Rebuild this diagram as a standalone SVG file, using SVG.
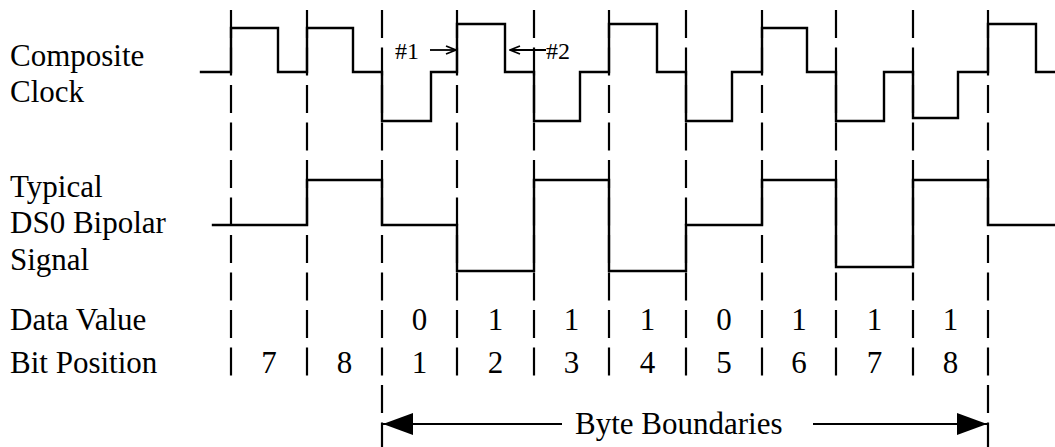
<svg xmlns="http://www.w3.org/2000/svg" width="1055" height="447" viewBox="0 0 1055 447">
<style>
.lbl{font-family:"Liberation Serif","Times New Roman",serif;font-size:31px;fill:#000}
.num{font-family:"Liberation Serif","Times New Roman",serif;font-size:31px;fill:#000;text-anchor:middle}
.small{font-family:"Liberation Serif","Times New Roman",serif;font-size:24px;fill:#000}
.dash{stroke:#000;stroke-width:2.2;stroke-dasharray:28 9.5;fill:none}
.wave{stroke:#000;stroke-width:2.4;fill:none;stroke-linejoin:miter;stroke-linecap:square}
.ln{stroke:#000;stroke-width:2.2;fill:none}
</style>
<defs>
<marker id="big" viewBox="0 0 30 22" refX="30" refY="11" markerWidth="30" markerHeight="22" markerUnits="userSpaceOnUse" orient="auto">
<path d="M0,0 L30,11 L0,22 Z" fill="#000"/>
</marker>
<marker id="open" viewBox="0 0 12 10" refX="11" refY="5" markerWidth="12" markerHeight="10" markerUnits="userSpaceOnUse" orient="auto">
<path d="M1,1 L11,5 L1,9" fill="none" stroke="#000" stroke-width="1.8"/>
</marker>
</defs>
<rect width="1055" height="447" fill="#fff"/>
<g id="gridlines">
<line class="dash" x1="231" y1="10" x2="231" y2="376"/>
<line class="dash" x1="307" y1="10" x2="307" y2="376"/>
<line class="dash" x1="382" y1="10" x2="382" y2="447"/>
<line class="dash" x1="457" y1="10" x2="457" y2="376"/>
<line class="dash" x1="534" y1="10" x2="534" y2="376"/>
<line class="dash" x1="609" y1="10" x2="609" y2="376"/>
<line class="dash" x1="686" y1="10" x2="686" y2="376"/>
<line class="dash" x1="762" y1="10" x2="762" y2="376"/>
<line class="dash" x1="836" y1="10" x2="836" y2="376"/>
<line class="dash" x1="913" y1="10" x2="913" y2="376"/>
<line class="dash" x1="988" y1="10" x2="988" y2="447"/>
</g>
<g id="composite-clock">
<path class="wave" d="M201,72 H231 V28 H278 V72 H307 V28 H353 V72 H382 V121 H431 V72 H457 V24 H505 V72 H534 V121 H580 V72 H609 V24 H657 V72 H686 V121 H732 V72 H762 V28 H807 V72 H836 V121 H884 V72 H913 V118 H958 V72 H988 V24 H1036 V72 H1056"/>
</g>
<g id="bipolar-signal">
<path class="wave" d="M213,225 H307 V180 H382 V225 H457 V271 H534 V180 H609 V271 H686 V225 H762 V180 H836 V267 H913 V180 H988 V225 H1056"/>
</g>
<g id="labels">
<text class="lbl" x="10" y="66">Composite</text>
<text class="lbl" x="10" y="102">Clock</text>
<text class="lbl" x="10" y="197">Typical</text>
<text class="lbl" x="10" y="233">DS0 Bipolar</text>
<text class="lbl" x="10" y="270">Signal</text>
<text class="lbl" x="10" y="330">Data Value</text>
<text class="lbl" x="10" y="373">Bit Position</text>
</g>
<g id="data-values">
<text class="num" x="419.5" y="330">0</text>
<text class="num" x="495.5" y="330">1</text>
<text class="num" x="571.5" y="330">1</text>
<text class="num" x="647.5" y="330">1</text>
<text class="num" x="724" y="330">0</text>
<text class="num" x="799" y="330">1</text>
<text class="num" x="874.5" y="330">1</text>
<text class="num" x="950.5" y="330">1</text>
</g>
<g id="bit-positions">
<text class="num" x="269" y="373">7</text>
<text class="num" x="344.5" y="373">8</text>
<text class="num" x="419.5" y="373">1</text>
<text class="num" x="495.5" y="373">2</text>
<text class="num" x="571.5" y="373">3</text>
<text class="num" x="647.5" y="373">4</text>
<text class="num" x="724" y="373">5</text>
<text class="num" x="799" y="373">6</text>
<text class="num" x="874.5" y="373">7</text>
<text class="num" x="950.5" y="373">8</text>
</g>
<g id="edge-markers">
<text class="small" x="395" y="59">#1</text>
<text class="small" x="546" y="59">#2</text>
</g>
<g id="connectors">
<line class="ln" x1="430" y1="50" x2="456" y2="50" marker-end="url(#open)" style="stroke-width:1.8"/>
<line class="ln" x1="546" y1="50" x2="510" y2="50" marker-end="url(#open)" style="stroke-width:1.8"/>
<line class="ln" x1="562" y1="424" x2="383" y2="424" marker-end="url(#big)"/>
<line class="ln" x1="813" y1="424" x2="987" y2="424" marker-end="url(#big)"/>
</g>
<g id="byte-label">
<text class="lbl" x="575" y="434">Byte Boundaries</text>
</g>
</svg>
